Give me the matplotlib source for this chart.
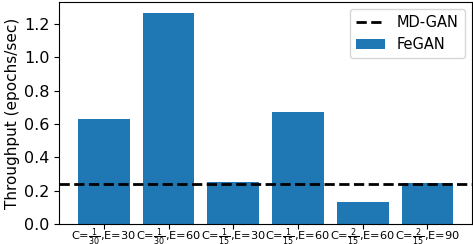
import matplotlib
matplotlib.use("Agg")
import matplotlib.pyplot as plt

labels = [r"C=$\frac{1}{30}$,E=30", r"C=$\frac{1}{30}$,E=60", r"C=$\frac{1}{15}$,E=30",
          r"C=$\frac{1}{15}$,E=60", r"C=$\frac{2}{15}$,E=60", r"C=$\frac{2}{15}$,E=90"]
fegan = [0.63, 1.27, 0.255, 0.67, 0.135, 0.245]
mdgan = 0.24

fig = plt.figure(figsize=(4.73, 2.44), dpi=100)
ax = fig.add_axes([0.125, 0.082, 0.873, 0.91])
x = range(len(labels))
ax.bar(x, fegan, width=0.8, color="#1f77b4", label="FeGAN")
ax.axhline(mdgan, color="black", linestyle="--", linewidth=2, label="MD-GAN")
ax.set_xticks(list(x))
ax.set_xticklabels(labels, fontsize=8.2)
ax.tick_params(axis="x", pad=-2)
ax.tick_params(axis="y", labelsize=11.5)
ax.set_ylabel("Throughput (epochs/sec)", fontsize=11, labelpad=3)
ax.set_yticks([0.0, 0.2, 0.4, 0.6, 0.8, 1.0, 1.2])
ax.legend(loc="upper right", fontsize=10.5)
fig.savefig("out.png", dpi=100)
